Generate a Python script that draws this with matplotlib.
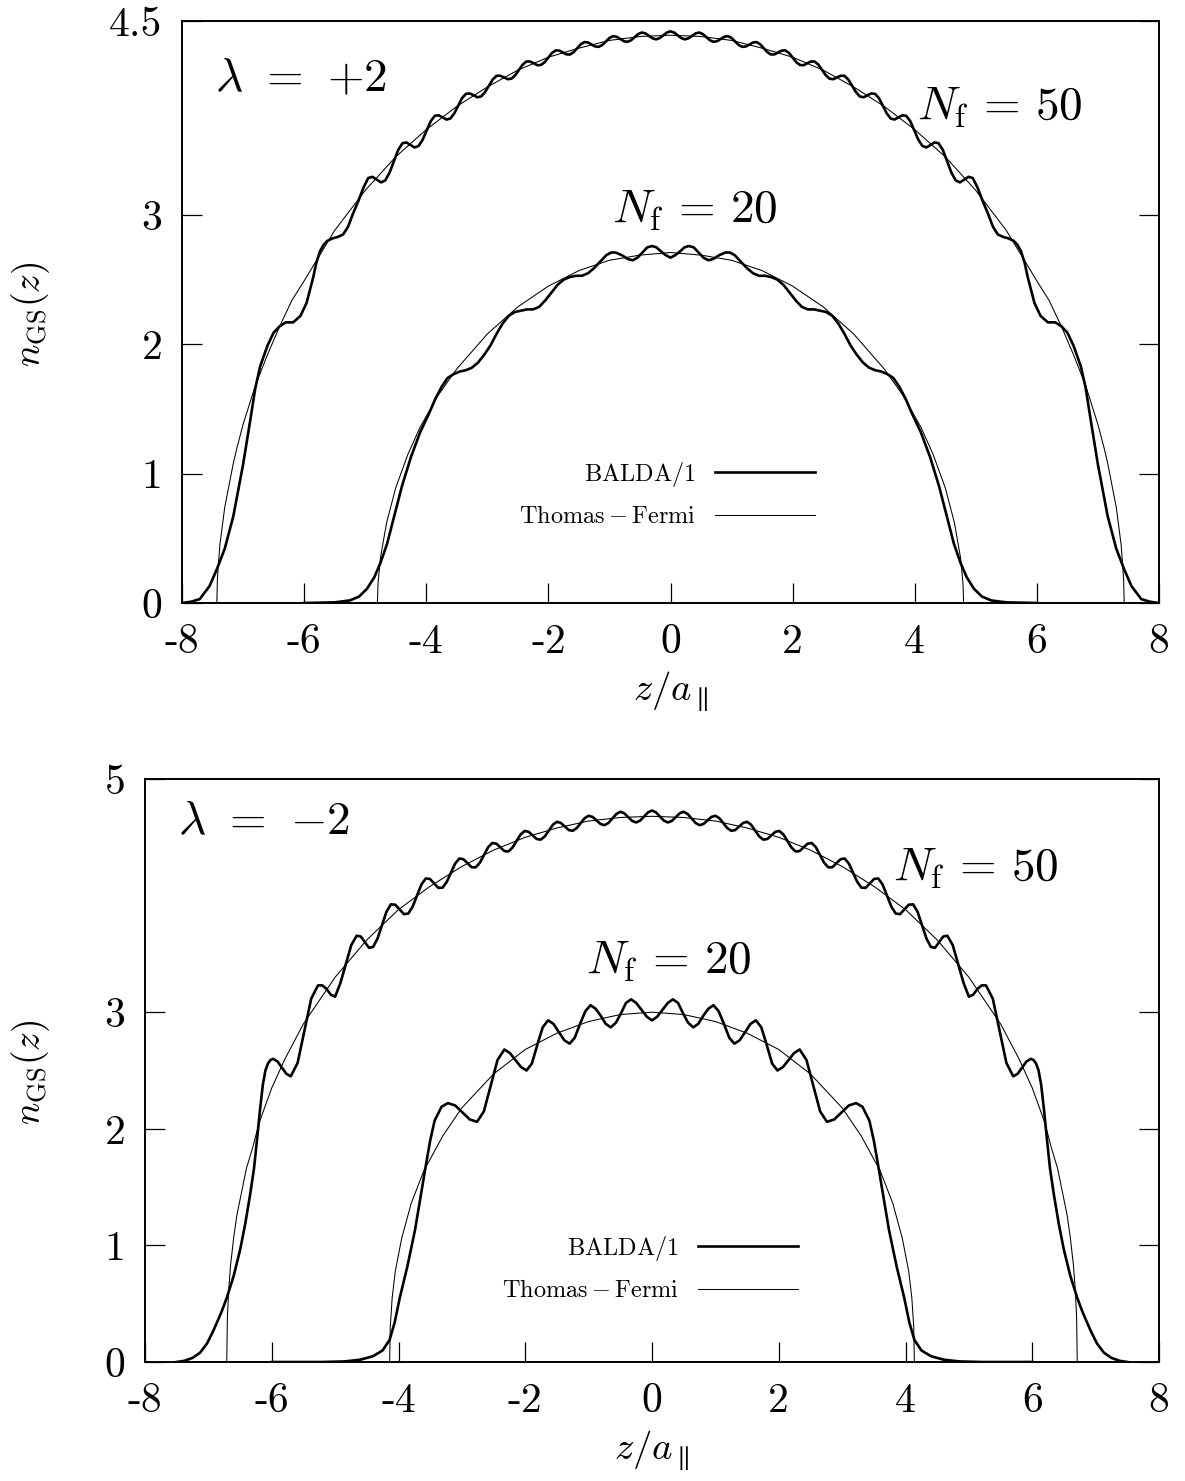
import numpy as np
import matplotlib
matplotlib.use('Agg')
import matplotlib.pyplot as plt

plt.rcParams['mathtext.fontset'] = 'cm'
plt.rcParams['font.family'] = ['cmr10', 'DejaVu Serif']
plt.rcParams['axes.unicode_minus'] = False
plt.rcParams['axes.formatter.use_mathtext'] = True

# ---------------- data (half profiles, z >= 0; the curves are symmetric) -------------
x_ticks = [-8, -6, -4, -2, 0, 2, 4, 6, 8]
x_tick_labels = ['-8', '-6', '-4', '-2', '0', '2', '4', '6', '8']
top_y_ticks = [0, 1, 2, 3, 4.5]
top_y_tick_labels = ['0', '1', '2', '3', '4.5']
bot_y_ticks = [0, 1, 2, 3, 5]
bot_y_tick_labels = ['0', '1', '2', '3', '5']

# lambda = +2, N_f = 50
z_p50_balda = [0.000, 0.059, 0.1175, 0.176, 0.235, 0.294, 0.3525, 0.411, 0.470, 0.529,
               0.5875, 0.646, 0.705, 0.764, 0.8225, 0.881, 0.940, 0.999, 1.0575, 1.116,
               1.175, 1.234, 1.2925, 1.351, 1.410, 1.469, 1.5275, 1.586, 1.645, 1.704,
               1.7625, 1.821, 1.880, 1.940, 2.000, 2.060, 2.120, 2.180, 2.240, 2.300,
               2.360, 2.421, 2.4825, 2.544, 2.605, 2.666, 2.7275, 2.789, 2.850, 2.9125,
               2.975, 3.0375, 3.100, 3.1625, 3.225, 3.2875, 3.350, 3.414, 3.4775, 3.541,
               3.605, 3.669, 3.7325, 3.796, 3.860, 3.926, 3.9925, 4.059, 4.125, 4.191,
               4.2575, 4.324, 4.390, 4.460, 4.530, 4.600, 4.670, 4.740, 4.810, 4.880,
               4.950, 5.030, 5.110, 5.200, 5.280, 5.360, 5.450, 5.530, 5.620, 5.680,
               5.740, 5.800, 5.850, 5.960, 6.060, 6.180, 6.300, 6.400, 6.500, 6.600,
               6.720, 6.800, 6.890, 7.000, 7.160, 7.300, 7.430, 7.550, 7.710, 7.850,
               8.000]
n_p50_balda = [4.420, 4.411, 4.389, 4.368, 4.358, 4.366, 4.385, 4.404, 4.411, 4.399,
               4.375, 4.351, 4.339, 4.344, 4.361, 4.378, 4.383, 4.369, 4.342, 4.315,
               4.300, 4.303, 4.318, 4.334, 4.337, 4.320, 4.290, 4.259, 4.241, 4.242,
               4.257, 4.271, 4.273, 4.253, 4.218, 4.182, 4.160, 4.158, 4.173, 4.187,
               4.187, 4.163, 4.122, 4.080, 4.054, 4.050, 4.064, 4.077, 4.076, 4.047,
               3.999, 3.950, 3.917, 3.910, 3.926, 3.940, 3.937, 3.903, 3.844, 3.786,
               3.746, 3.738, 3.755, 3.771, 3.767, 3.726, 3.654, 3.582, 3.534, 3.522,
               3.542, 3.561, 3.555, 3.503, 3.416, 3.328, 3.268, 3.252, 3.273, 3.295,
               3.286, 3.210, 3.110, 3.010, 2.910, 2.850, 2.830, 2.820, 2.800, 2.770,
               2.720, 2.630, 2.520, 2.320, 2.220, 2.170, 2.170, 2.140, 2.090, 1.990,
               1.830, 1.660, 1.390, 1.070, 0.670, 0.420, 0.260, 0.130, 0.030, 0.010,
               0.000]
z_p50_tf = [0.0, 0.5, 1.0, 1.5, 2.0, 2.5, 3.0, 3.5, 4.0, 4.5, 5.0, 5.5, 6.0, 6.2, 6.4,
            6.6, 6.8, 7.0, 7.1, 7.16, 7.3, 7.38, 7.42, 7.43]
n_p50_tf = [4.39, 4.38, 4.35, 4.29, 4.22, 4.12, 3.99, 3.84, 3.66, 3.45, 3.19, 2.88, 2.49,
            2.34, 2.14, 1.92, 1.68, 1.38, 1.20, 1.08, 0.74, 0.45, 0.19, 0.00]

# lambda = +2, N_f = 20
z_p20_balda = [0.00, 0.08, 0.16, 0.23, 0.30, 0.38, 0.46, 0.54, 0.62, 0.70, 0.80, 0.90,
               0.97, 1.05, 1.15, 1.25, 1.35, 1.45, 1.55, 1.65, 1.75, 1.85, 1.95, 2.05,
               2.15, 2.25, 2.35, 2.45, 2.55, 2.65, 2.75, 2.85, 2.95, 3.05, 3.15, 3.25,
               3.35, 3.45, 3.55, 3.65, 3.75, 3.85, 3.95, 4.10, 4.25, 4.40, 4.52, 4.64,
               4.75, 4.85, 4.97, 5.10, 5.25, 5.50, 6.00]
n_p20_balda = [2.67, 2.69, 2.72, 2.75, 2.76, 2.75, 2.71, 2.67, 2.65, 2.66, 2.69, 2.71,
               2.71, 2.69, 2.64, 2.59, 2.55, 2.53, 2.53, 2.52, 2.50, 2.46, 2.40, 2.34,
               2.29, 2.27, 2.27, 2.26, 2.25, 2.22, 2.16, 2.08, 1.99, 1.92, 1.86, 1.82,
               1.80, 1.79, 1.77, 1.74, 1.67, 1.58, 1.47, 1.32, 1.13, 0.90, 0.68, 0.46,
               0.31, 0.20, 0.11, 0.05, 0.02, 0.005, 0.00]
z_p20_tf = [0.0, 0.5, 1.0, 1.5, 2.0, 2.5, 3.0, 3.5, 3.8, 4.1, 4.3, 4.5, 4.65, 4.75, 4.79, 4.8]
n_p20_tf = [2.71, 2.69, 2.65, 2.57, 2.45, 2.29, 2.08, 1.81, 1.61, 1.36, 1.15, 0.89, 0.62,
            0.35, 0.15, 0.00]

# lambda = -2, N_f = 50
z_m50_balda = [0.000, 0.0625, 0.125, 0.1875, 0.250, 0.3125, 0.375, 0.4375, 0.500, 0.5625,
               0.625, 0.6875, 0.750, 0.8125, 0.875, 0.9375, 1.000, 1.0625, 1.125, 1.1875,
               1.250, 1.3125, 1.375, 1.4375, 1.500, 1.564, 1.6275, 1.691, 1.755, 1.819,
               1.8825, 1.946, 2.010, 2.074, 2.1375, 2.201, 2.265, 2.329, 2.3925, 2.456,
               2.520, 2.585, 2.650, 2.715, 2.780, 2.845, 2.910, 2.975, 3.040, 3.106,
               3.1725, 3.239, 3.305, 3.371, 3.4375, 3.504, 3.570, 3.639, 3.7075, 3.776,
               3.845, 3.914, 3.9825, 4.051, 4.120, 4.190, 4.260, 4.330, 4.400, 4.465,
               4.530, 4.595, 4.660, 4.745, 4.830, 4.915, 5.000, 5.0675, 5.135, 5.2025,
               5.270, 5.3775, 5.485, 5.5925, 5.700, 5.770, 5.840, 5.910, 5.980, 6.020,
               6.060, 6.100, 6.140, 6.180, 6.230, 6.280, 6.340, 6.420, 6.500, 6.600,
               6.710, 6.800, 6.920, 7.020, 7.130, 7.250, 7.380, 7.500]
n_m50_balda = [4.730, 4.714, 4.679, 4.643, 4.627, 4.640, 4.673, 4.706, 4.719, 4.700,
               4.662, 4.623, 4.604, 4.614, 4.645, 4.675, 4.685, 4.664, 4.622, 4.579,
               4.556, 4.562, 4.593, 4.623, 4.633, 4.608, 4.558, 4.508, 4.480, 4.485,
               4.516, 4.547, 4.554, 4.524, 4.468, 4.412, 4.379, 4.382, 4.413, 4.445,
               4.451, 4.416, 4.350, 4.283, 4.243, 4.243, 4.278, 4.312, 4.318, 4.275,
               4.196, 4.117, 4.068, 4.066, 4.105, 4.143, 4.147, 4.095, 4.000, 3.906,
               3.846, 3.841, 3.882, 3.922, 3.925, 3.862, 3.748, 3.633, 3.560, 3.552,
               3.600, 3.649, 3.656, 3.576, 3.415, 3.253, 3.133, 3.150, 3.200, 3.230,
               3.230, 3.116, 2.840, 2.564, 2.450, 2.472, 2.525, 2.578, 2.600, 2.590,
               2.560, 2.500, 2.380, 2.190, 1.920, 1.660, 1.440, 1.180, 0.960, 0.740,
               0.550, 0.420, 0.270, 0.160, 0.080, 0.035, 0.010, 0.000]
z_m50_tf = [0.0, 0.5, 1.0, 1.5, 2.0, 2.5, 3.0, 3.5, 4.0, 4.5, 5.0, 5.5, 5.8, 6.0, 6.2,
            6.3, 6.4, 6.55, 6.6, 6.65, 6.68, 6.70, 6.71]
n_m50_tf = [4.68, 4.67, 4.64, 4.58, 4.50, 4.39, 4.25, 4.08, 3.88, 3.62, 3.30, 2.90, 2.59,
            2.35, 2.05, 1.84, 1.66, 1.26, 1.07, 0.83, 0.61, 0.38, 0.00]

# lambda = -2, N_f = 20
z_m20_balda = [0.00, 0.08, 0.165, 0.25, 0.33, 0.41, 0.49, 0.57, 0.65, 0.73, 0.81, 0.89,
               0.97, 1.05, 1.135, 1.22, 1.30, 1.385, 1.47, 1.555, 1.64, 1.725, 1.81, 1.895,
               1.98, 2.0675, 2.155, 2.2425, 2.33, 2.4375, 2.545, 2.6525, 2.76, 2.875, 2.99,
               3.105, 3.22, 3.32, 3.43, 3.50, 3.58, 3.66, 3.74, 3.86, 3.98, 4.06, 4.14,
               4.25, 4.40, 4.60, 4.85, 5.20, 6.00]
n_m20_balda = [2.93, 2.96, 3.02, 3.08, 3.11, 3.08, 2.99, 2.91, 2.87, 2.90, 2.97, 3.03,
               3.06, 3.01, 2.90, 2.78, 2.73, 2.76, 2.83, 2.90, 2.93, 2.87, 2.72, 2.56,
               2.50, 2.53, 2.59, 2.65, 2.68, 2.59, 2.37, 2.15, 2.06, 2.08, 2.14,
               2.20, 2.22, 2.19, 2.07, 1.90, 1.65, 1.39, 1.13, 0.82, 0.55, 0.34, 0.19,
               0.10, 0.05, 0.02, 0.005, 0.00, 0.00]
z_m20_tf = [0.0, 0.5, 1.0, 1.5, 2.0, 2.5, 3.0, 3.3, 3.6, 3.8, 3.95, 4.05, 4.10, 4.13, 4.14]
n_m20_tf = [3.00, 2.98, 2.92, 2.82, 2.68, 2.47, 2.18, 1.94, 1.64, 1.36, 1.06, 0.78, 0.55,
            0.30, 0.00]


def mirror(z, n):
    z = np.asarray(z, float)
    n = np.asarray(n, float)
    return np.concatenate([-z[::-1], z[1:]]), np.concatenate([n[::-1], n[1:]])


W, H = 1185, 1481
fig = plt.figure(figsize=(W / 100, H / 100), dpi=100)


def make_axes(left, right, top, bottom):
    return fig.add_axes([left / W, 1 - bottom / H, (right - left) / W, (bottom - top) / H])


ax1 = make_axes(182, 1159, 21, 603)
ax2 = make_axes(145, 1159, 779, 1362)

BW = 1.9
TW = 0.75
FS_TICK = 30

panels = [
    (ax1, (z_p50_balda, n_p50_balda), (z_p50_tf, n_p50_tf), (z_p20_balda, n_p20_balda),
     (z_p20_tf, n_p20_tf), 4.5, top_y_ticks, top_y_tick_labels),
    (ax2, (z_m50_balda, n_m50_balda), (z_m50_tf, n_m50_tf), (z_m20_balda, n_m20_balda),
     (z_m20_tf, n_m20_tf), 5.0, bot_y_ticks, bot_y_tick_labels),
]

for ax, b50, t50, b20, t20, ymax, yt, ytl in panels:
    zb, nb = mirror(*b50)
    ax.plot(zb, nb, color='black', lw=BW, label=r'$\mathrm{BALDA/1}$', zorder=3,
            solid_joinstyle='round')
    zt, nt = mirror(*t50)
    ax.plot(zt, nt, color='black', lw=TW, label=r'$\mathrm{Thomas-Fermi}$', zorder=2)
    zb, nb = mirror(*b20)
    ax.plot(zb, nb, color='black', lw=BW, zorder=3, solid_joinstyle='round')
    zt, nt = mirror(*t20)
    ax.plot(zt, nt, color='black', lw=TW, zorder=2)

    ax.set_xlim(-8, 8)
    ax.set_ylim(0, ymax)
    ax.set_xticks(x_ticks)
    ax.set_xticklabels(x_tick_labels, fontsize=FS_TICK)
    ax.set_yticks(yt)
    ax.set_yticklabels(ytl, fontsize=FS_TICK)
    ax.tick_params(axis='both', direction='in', length=14.5, width=0.9, right=True, top=False)
    ax.tick_params(axis='x', pad=15)
    ax.tick_params(axis='y', pad=14)
    for s in ax.spines.values():
        s.set_linewidth(1.4)
        s.set_zorder(5)
    ax.set_xlabel(r'$z/a_{\parallel}$', fontsize=28)
    ax.set_ylabel(r'$n_{\mathrm{GS}}(z)$', fontsize=27)

# annotations
ax1.text(0.034, 0.899, r'$\lambda$ $=$ $+2$', transform=ax1.transAxes, fontsize=34,
         va='center', ha='left')
ax2.text(0.033, 0.926, r'$\lambda$ $=$ $-2$', transform=ax2.transAxes, fontsize=34,
         va='center', ha='left')
ax1.text(0.752, 0.851, r'$N_{\mathrm{f}}\,=\,50$', transform=ax1.transAxes, fontsize=34,
         va='center', ha='left')
ax1.text(0.44, 0.674, r'$N_{\mathrm{f}}\,=\,20$', transform=ax1.transAxes, fontsize=34,
         va='center', ha='left')
ax2.text(0.738, 0.846, r'$N_{\mathrm{f}}\,=\,50$', transform=ax2.transAxes, fontsize=34,
         va='center', ha='left')
ax2.text(0.435, 0.687, r'$N_{\mathrm{f}}\,=\,20$', transform=ax2.transAxes, fontsize=34,
         va='center', ha='left')

ax1.xaxis.set_label_coords(0.5, -0.115)
ax1.yaxis.set_label_coords(-0.133, 0.495)
ax2.xaxis.set_label_coords(0.5, -0.115)
ax2.yaxis.set_label_coords(-0.092, 0.496)

leg_kw = dict(loc='upper right', frameon=False, markerfirst=False, fontsize=17.5,
              handlelength=4.1, handletextpad=0.8, labelspacing=0.7, borderpad=0,
              borderaxespad=0)
ax1.legend(bbox_to_anchor=((815 - 182) / 977, (603 - 460) / 582), **leg_kw)
ax2.legend(bbox_to_anchor=((798 - 145) / 1014, (1362 - 1234) / 583), **leg_kw)

fig.savefig('out.png', dpi=100)
